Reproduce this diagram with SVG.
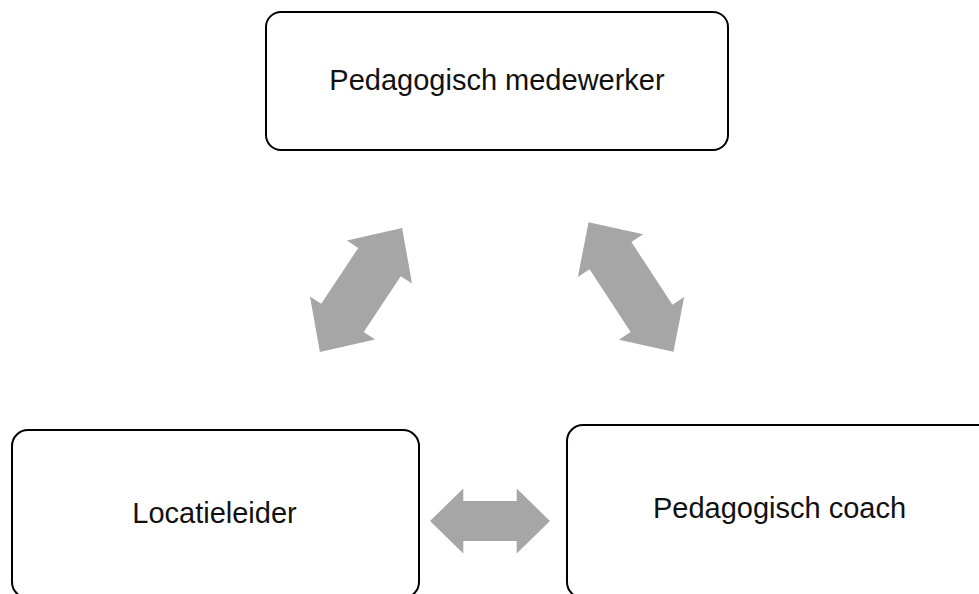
<svg xmlns="http://www.w3.org/2000/svg" width="979" height="594" viewBox="0 0 979 594">
<style>
.box{fill:#fff;stroke:#000;stroke-width:2}
.lbl{font-family:"Liberation Sans",Arial,sans-serif;font-size:29px;fill:#111;text-anchor:middle}
.arr{fill:#a6a6a6}
</style>
<rect x="0" y="0" width="979" height="594" fill="#fff"/>
<g id="connectors">
<path class="arr" transform="translate(361,290) rotate(-56.5)" d="M-74.5,0 L-33.5,-39 L-33.5,-25.5 L33.5,-25.5 L33.5,-39 L74.5,0 L33.5,39 L33.5,25.5 L-33.5,25.5 L-33.5,39 Z"/>
<path class="arr" transform="translate(631,287) rotate(56.8)" d="M-77.5,0 L-37.5,-39 L-37.5,-25 L37.5,-25 L37.5,-39 L77.5,0 L37.5,39 L37.5,25 L-37.5,25 L-37.5,39 Z"/>
<path class="arr" transform="translate(490,521)" d="M-60,0 L-26.7,-32.5 L-26.7,-20 L26.7,-20 L26.7,-32.5 L60,0 L26.7,32.5 L26.7,20 L-26.7,20 L-26.7,32.5 Z"/>
</g>
<g id="node-medewerker">
<rect class="box" x="266" y="12" width="462" height="138" rx="15" ry="15"/>
<text class="lbl" x="497" y="90">Pedagogisch medewerker</text>
</g>
<g id="node-locatieleider">
<rect class="box" x="12" y="430" width="407" height="168" rx="16" ry="16"/>
<text class="lbl" x="214.5" y="523">Locatieleider</text>
</g>
<g id="node-coach">
<rect class="box" x="567" y="425" width="440" height="173" rx="16" ry="16"/>
<text class="lbl" x="779.5" y="518">Pedagogisch coach</text>
</g>
</svg>
